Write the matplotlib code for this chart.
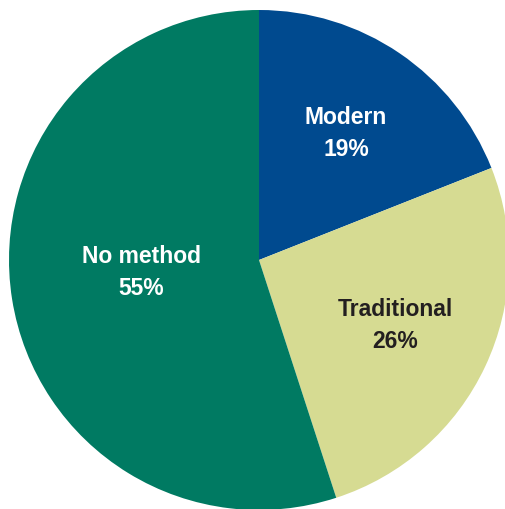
import matplotlib.pyplot as plt

#Data
labels = ["Modern", "Traditional", "No method"]
shares = [19, 26, 55]
colors = ["#004A8F", "#D6DB92", "#007A62"]
text_colors = ["white", "#231F20", "white"]

#Label placement (data coords, pie radius 1)
label_xy = [(0.348, 0.508), (0.544, -0.258), (-0.472, -0.046)]

fig = plt.figure(figsize=(5.05, 5.10), dpi=100)
ax = fig.add_axes([0, 0, 1, 1])
ax.pie(shares, colors=colors, startangle=90, counterclock=False,
       radius=1.0, wedgeprops={"linewidth": 0})
ax.set_xlim(-1.036, 0.984)
ax.set_ylim(-0.996, 1.044)
ax.set_aspect("auto")
ax.axis("off")

for lab, val, (x, y), tc in zip(labels, shares, label_xy, text_colors):
    ax.text(x, y, "{}\n{}%".format(lab, val), ha="center", va="center",
            color=tc, fontsize=16.5, fontweight="bold", linespacing=1.5,
            family=["Liberation Sans", "DejaVu Sans"])

fig.savefig("out.png", dpi=100)
plt.close(fig)
